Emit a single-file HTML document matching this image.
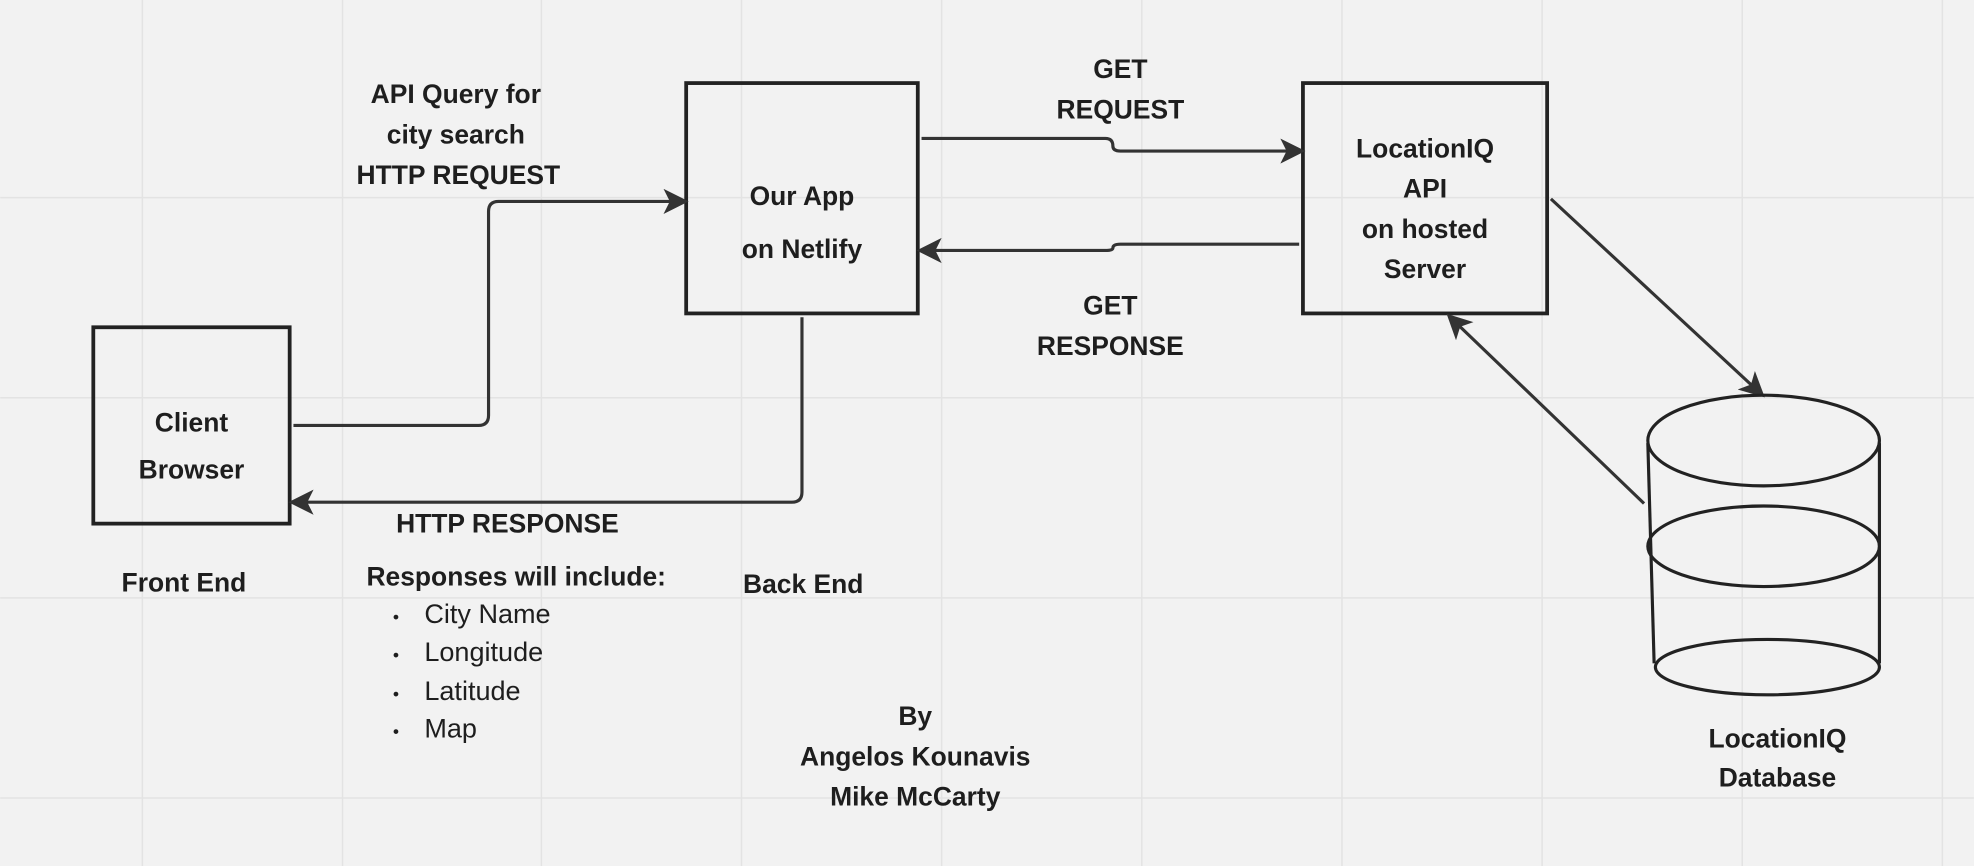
<!DOCTYPE html>
<html><head><meta charset="utf-8"><style>
html,body{margin:0;padding:0;background:#f2f2f2;}
svg{display:block;}
text{font-family:"Liberation Sans",sans-serif;fill:#1e1e1e;}
.b{font-weight:bold;font-size:21px;}
.r{font-size:21.5px;}
</style></head><body>
<svg width="1974" height="866" viewBox="0 0 1568 688" xmlns="http://www.w3.org/2000/svg">
<rect width="1568" height="688" fill="#f2f2f2"/>
<g stroke="#e3e3e3" stroke-width="1.2">
<line x1="113" y1="0" x2="113" y2="688"/><line x1="272" y1="0" x2="272" y2="688"/>
<line x1="430" y1="0" x2="430" y2="688"/><line x1="589" y1="0" x2="589" y2="688"/>
<line x1="748" y1="0" x2="748" y2="688"/><line x1="907" y1="0" x2="907" y2="688"/>
<line x1="1066" y1="0" x2="1066" y2="688"/><line x1="1225" y1="0" x2="1225" y2="688"/>
<line x1="1384" y1="0" x2="1384" y2="688"/><line x1="1543" y1="0" x2="1543" y2="688"/>
<line x1="0" y1="157" x2="1568" y2="157"/><line x1="0" y1="316" x2="1568" y2="316"/>
<line x1="0" y1="475" x2="1568" y2="475"/><line x1="0" y1="634" x2="1568" y2="634"/>
</g>
<defs>
<marker id="ab" markerWidth="20" markerHeight="20" refX="16" refY="10" orient="auto" markerUnits="userSpaceOnUse" viewBox="0 0 20 20"><path d="M0,0 L20,10 L0,20 L5,10 Z" fill="#333"/></marker></defs>
<g fill="none" stroke="#222" stroke-width="3">
<rect x="74" y="260" width="156" height="156"/>
<rect x="545" y="66" width="184" height="183"/>
<rect x="1035" y="66" width="194" height="183"/>
</g>
<g fill="none" stroke="#333" stroke-width="2.5" marker-end="url(#ab)">
<path d="M233,338 H380 Q388,338 388,330 V168 Q388,160 396,160 H543"/>
<path d="M637,252 V391 Q637,399 629,399 H233"/>
<path d="M732,110 H878 Q884,110 884,116 Q884,120 890,120 H1033"/>
<path d="M1032,194 H890 Q884,194 884,197 Q884,199 878,199 H732"/>
<path d="M1232,158 L1399,313"/>
<path d="M1306,400 L1152,252"/>
</g>
<g fill="none" stroke="#222" stroke-width="2.5">
<ellipse cx="1401" cy="350" rx="92" ry="36"/>
<ellipse cx="1401" cy="434" rx="92" ry="32"/>
<ellipse cx="1404" cy="530" rx="89" ry="22"/>
<line x1="1309" y1="352" x2="1314" y2="527"/>
<line x1="1493" y1="352" x2="1493" y2="527"/>
</g>
<g class="b" text-anchor="middle">
<text x="152" y="343">Client</text><text x="152" y="380">Browser</text>
<text x="637" y="163">Our App</text><text x="637" y="205">on Netlify</text>
<text x="1132" y="125">LocationIQ</text><text x="1132" y="157">API</text><text x="1132" y="189">on hosted</text><text x="1132" y="221">Server</text>
<text x="362" y="82">API Query for</text><text x="362" y="114">city search</text><text x="364" y="146">HTTP REQUEST</text>
<text x="890" y="62">GET</text><text x="890" y="94">REQUEST</text>
<text x="882" y="250">GET</text><text x="882" y="282">RESPONSE</text>
<text x="403" y="423">HTTP RESPONSE</text>
<text x="146" y="470">Front End</text>
<text x="638" y="471">Back End</text>
<text x="727" y="576">By</text><text x="727" y="608">Angelos Kounavis</text><text x="727" y="640">Mike McCarty</text>
<text x="1412" y="594">LocationIQ</text><text x="1412" y="625">Database</text>
</g>
<text class="b" x="291" y="465">Responses will include:</text>
<g class="r">
<text x="312" y="495" font-size="14">•</text><text x="337" y="495">City Name</text>
<text x="312" y="525" font-size="14">•</text><text x="337" y="525">Longitude</text>
<text x="312" y="556" font-size="14">•</text><text x="337" y="556">Latitude</text>
<text x="312" y="586" font-size="14">•</text><text x="337" y="586">Map</text>
</g>
</svg>
</body></html>
